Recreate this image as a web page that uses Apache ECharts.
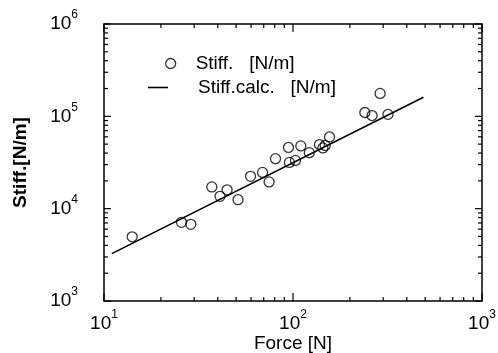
<!DOCTYPE html>
<html>
<head>
<meta charset="utf-8">
<script src="https://cdn.jsdelivr.net/npm/echarts@6/dist/echarts.min.js"></script>
<style>
  html, body { margin: 0; padding: 0; background: #fff; }
  #chart { width: 498px; height: 353px; }
</style>
</head>
<body>
<div id="chart"></div>
<script>
// measured points
const forceN = [14.1, 25.7, 28.8, 37.2, 41.1, 44.8, 51.2, 59.6, 69.0, 74.7, 80.8, 94.6,
  95.7, 103, 110, 122, 138, 144, 148, 156, 240, 262, 318, 289];
const stiffN = [4960, 7110, 6760, 17200, 13600, 16000, 12500, 22400, 24700, 19500, 34800, 46000,
  31700, 33300, 47800, 40400, 49500, 45500, 48400, 59800, 110000, 102000, 105000, 177000];

// calculated stiffness line
const calcForce = [11, 490];
const calcStiff = [3260, 161000];

// tick values
const majorX = [10, 100, 1000];
const minorX = [20, 30, 40, 50, 60, 70, 80, 90, 200, 300, 400, 500, 600, 700, 800, 900];
const majorY = [1000, 10000, 100000, 1000000];
const minorY = [2000, 3000, 4000, 5000, 6000, 7000, 8000, 9000,
  20000, 30000, 40000, 50000, 60000, 70000, 80000, 90000,
  200000, 300000, 400000, 500000, 600000, 700000, 800000, 900000];

const FONT = '"Liberation Sans", Arial, sans-serif';
const INK = '#000';

// "10" with a raised exponent
const pow10 = (v) => '{b|10}{s|' + Math.round(Math.log10(v)) + '}';
const richLabel = {
  b: { fontSize: 19, fontFamily: FONT, color: INK, lineHeight: 30 },
  s: { fontSize: 12, fontFamily: FONT, color: INK, lineHeight: 14, verticalAlign: 'top' }
};

// ticks drawn by a custom series through the axis scales
function tickData() {
  const out = [];
  majorX.forEach(v => out.push(['x', v, 8]));
  minorX.forEach(v => out.push(['x', v, 4]));
  majorY.forEach(v => out.push(['y', v, 7]));
  minorY.forEach(v => out.push(['y', v, 4]));
  return out;
}

function renderTick(params, api) {
  const kind = api.value(0);
  const v = api.value(1);
  const len = api.value(2);
  const style = { stroke: INK, lineWidth: 1.2 };
  const cs = params.coordSys;
  if (kind === 'x') {
    const px = api.coord([v, 1000])[0];
    const b = cs.y + cs.height, t = cs.y;
    return { type: 'group', children: [
      { type: 'line', shape: { x1: px, y1: b, x2: px, y2: b - len }, style: style },
      { type: 'line', shape: { x1: px, y1: t, x2: px, y2: t + len }, style: style }
    ] };
  }
  const py = api.coord([10, v])[1];
  const l = cs.x, r = cs.x + cs.width;
  return { type: 'group', children: [
    { type: 'line', shape: { x1: l, y1: py, x2: l + len, y2: py }, style: style },
    { type: 'line', shape: { x1: r, y1: py, x2: r - len, y2: py }, style: style }
  ] };
}

const chart = echarts.init(document.getElementById('chart'), null, { renderer: 'canvas' });

const axisBase = {
  type: 'log', logBase: 10,
  axisLine: { show: true, onZero: false, lineStyle: { color: INK, width: 1.5 } },
  axisTick: { show: false },
  splitLine: { show: false }
};

chart.setOption({
  backgroundColor: '#fff',
  animation: false,
  grid: { left: 104, right: 16, top: 24, bottom: 52, containLabel: false, outerBoundsMode: 'none' },
  legend: [
    {
      data: ['Stiff.   [N/m]'], orient: 'vertical', left: 160, top: 49,
      itemWidth: 20, itemHeight: 10,
      itemStyle: { color: '#fff', borderColor: INK, borderWidth: 1.3 },
      textStyle: { fontSize: 19, fontFamily: FONT, color: INK, padding: [0, 0, 0, 10] }
    },
    {
      data: [{ name: 'Stiff.calc.   [N/m]', icon: 'rect' }], orient: 'vertical', left: 143, top: 73,
      itemWidth: 20, itemHeight: 1.6,
      textStyle: { fontSize: 19, fontFamily: FONT, color: INK, padding: [0, 0, 0, 25] }
    }
  ],
  xAxis: [
    Object.assign({}, axisBase, {
      min: 10, max: 1000, position: 'bottom',
      axisLabel: { show: true, customValues: majorX, margin: 8, formatter: pow10, rich: richLabel, hideOverlap: false },
      name: 'Force [N]', nameLocation: 'middle', nameGap: 33, nameMoveOverlap: false,
      nameTextStyle: { fontSize: 19, fontFamily: FONT, color: INK }
    }),
    Object.assign({}, axisBase, { min: 10, max: 1000, position: 'top', axisLabel: { show: false } })
  ],
  yAxis: [
    Object.assign({}, axisBase, {
      min: 1000, max: 1000000, position: 'left',
      axisLabel: { show: true, customValues: majorY, margin: 26, formatter: pow10, rich: richLabel, hideOverlap: false },
      name: 'Stiff.[N/m]', nameLocation: 'middle', nameGap: 74, nameMoveOverlap: false,
      nameTextStyle: { fontSize: 19, fontWeight: 'bold', fontFamily: FONT, color: INK }
    }),
    Object.assign({}, axisBase, { min: 1000, max: 1000000, position: 'right', axisLabel: { show: false } })
  ],
  series: [
    {
      name: 'Stiff.   [N/m]', type: 'scatter',
      data: forceN.map((f, i) => [f, stiffN[i]]),
      symbol: 'circle', symbolSize: 10,
      itemStyle: { color: 'rgba(255,255,255,0)', borderColor: INK, borderWidth: 1.3 },
      z: 3
    },
    {
      name: 'Stiff.calc.   [N/m]', type: 'line',
      data: calcForce.map((f, i) => [f, calcStiff[i]]),
      symbol: 'none',
      lineStyle: { color: INK, width: 1.6 },
      itemStyle: { color: INK },
      z: 2
    },
    {
      name: 'ticks', type: 'custom',
      data: tickData(),
      renderItem: renderTick,
      encode: { x: -1, y: -1 },
      silent: true, clip: false, z: 4
    }
  ]
});
</script>
</body>
</html>
